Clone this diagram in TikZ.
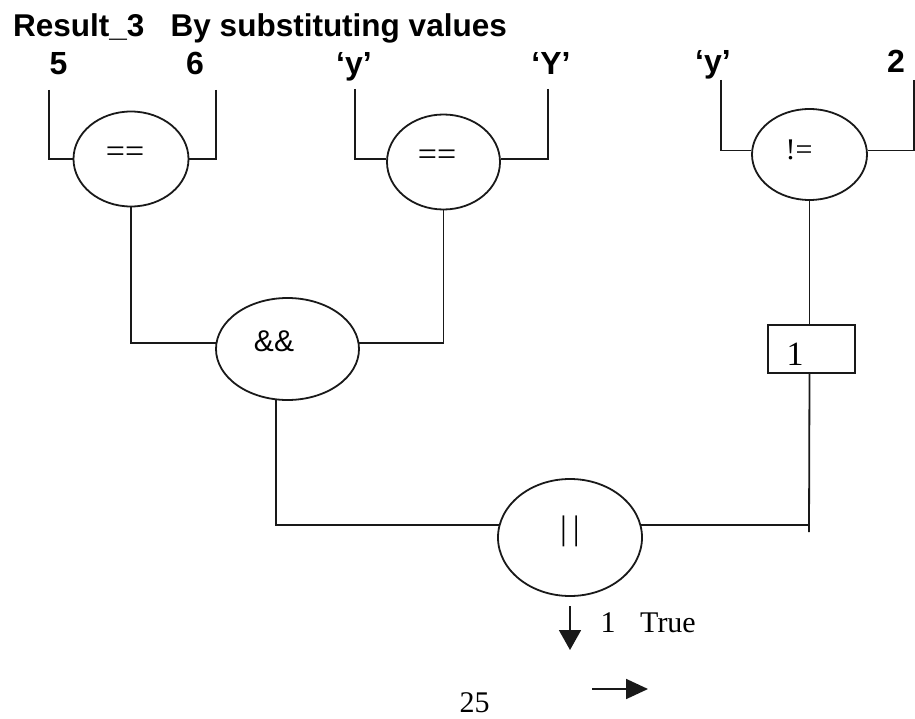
\documentclass[tikz,border=0pt]{standalone}
\usepackage{fontspec}
\setmainfont{Liberation Serif}
\setsansfont{Liberation Sans}
\usetikzlibrary{shapes.geometric,arrows.meta}
\begin{document}
\begin{tikzpicture}[x=1pt,y=-1pt,
  wire/.style={line width=1.8pt,black!90},
  op/.style={draw,ellipse,line width=1.8pt,black!90,inner sep=0pt},
  valbox/.style={draw,rectangle,line width=1.8pt,black!90,inner sep=0pt,minimum width=87pt,minimum height=48pt},
  lbl/.style={font=\sffamily\bfseries\fontsize{32}{38}\selectfont,anchor=base,inner sep=0pt},
  ttl/.style={font=\sffamily\bfseries\fontsize{31.5}{36}\selectfont,anchor=base west,inner sep=0pt},
  serif/.style={font=\rmfamily\fontsize{30}{36}\selectfont,anchor=base,inner sep=0pt},
  bigserif/.style={font=\rmfamily\fontsize{34}{40}\selectfont,anchor=base,inner sep=0pt},
  opsans/.style={font=\sffamily\fontsize{30}{36}\selectfont,anchor=base,inner sep=0pt},
  tip/.style={-{Triangle[length=20pt,width=22pt]}}
]
\useasboundingbox (0,0) rectangle (915,719);

% title
\node[ttl] (title) at (13,37) {Result\_3~~~By substituting values};

% operand labels
\node[lbl] (v5) at (58.5,75) {5};
\node[lbl] (v6) at (195,75) {6};
\node[lbl] (vy1) at (354,75) {‘y’};
\node[lbl] (vY) at (551,75) {‘Y’};
\node[lbl] (vy2) at (713,73) {‘y’};
\node[lbl] (v2) at (896,73) {2};

% free ends of input wires
\coordinate (t5) at (49,90);
\coordinate (t6) at (216,90);
\coordinate (ty1) at (355,89);
\coordinate (tY) at (548,89);
\coordinate (ty2) at (721,80);
\coordinate (t2) at (914,80);

% operator ellipses
\node[op,minimum width=115pt,minimum height=95pt] (e1) at (131,159) {};
\node[bigserif] at (125,163) {==};
\node[op,minimum width=113pt,minimum height=95pt] (e2) at (443.5,162) {};
\node[bigserif] at (437,166) {==};
\node[op,minimum width=115pt,minimum height=91pt] (e3) at (809.5,154.5) {};
\node[serif] at (799,160) {!=};
\node[op,minimum width=143pt,minimum height=102pt] (and) at (287.5,349) {};
\node[opsans] at (274,351) {\&\&};
\node[op,minimum width=144pt,minimum height=117pt] (or) at (570,537.5) {};
\node[bigserif] at (570,539) {|\kern6pt|};
\node[valbox] (box) at (811.5,349) {};
\node[bigserif] at (795,365) {1};

% input wires
\draw[wire] (t5) -- (t5 |- e1.west) -- (e1.west);
\draw[wire] (t6) -- (t6 |- e1.east) -- (e1.east);
\draw[wire] (ty1) -- (ty1 |- e2.177) -- (e2.177);
\draw[wire] (tY) -- (tY |- e2.3) -- (e2.3);
\draw[wire] (ty2) -- (ty2 |- e3.176) -- (e3.176);
\draw[wire] (t2) -- (t2 |- e3.4) -- (e3.4);

% to &&
\draw[wire] (e1.south) -- (e1.south |- and.175) -- (and.175);
\draw[wire] (e2.south) -- (e2.south |- and.5) -- (and.5);

% != to box
\draw[wire] (e3.south) -- (e3.south |- box.north);

% to ||
\coordinate (rend) at (809,532);
\draw[wire] (and.257) -- (and.257 |- or.170) -- (or.170);
\draw[wire] (e3.south |- box.south) -- (rend);
\draw[wire] (or.10) -- (or.10 -| rend);

% result
\coordinate (a1) at (570,606);
\coordinate (a2) at (570,650);
\draw[wire,tip] (a1) -- (a2);
\node[serif] (one) at (608,632) {1};
\node[serif] (true) at (668,632) {True};
\node[serif] (p25) at (474.5,712) {25};
\coordinate (b1) at (592,689);
\coordinate (b2) at (648,689);
\draw[wire,-{Triangle[length=22pt,width=20pt]}] (b1) -- (b2);
\end{tikzpicture}
\end{document}
